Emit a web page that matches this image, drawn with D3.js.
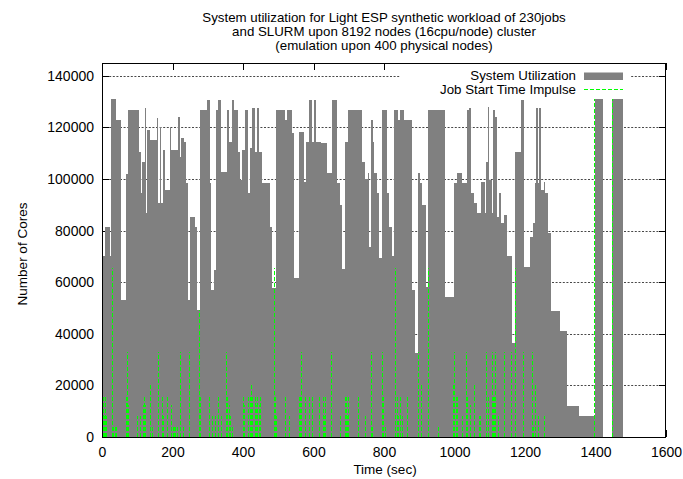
<!DOCTYPE html>
<html>
<head>
<meta charset="utf-8">
<title>System utilization</title>
<script src="https://d3js.org/d3.v7.min.js"></script>
<style>
  body { margin: 0; background: #fff; }
  svg { display: block; font-family: "Liberation Sans", Arial, Helvetica, sans-serif; }
  .tick text { font-size: 14px; fill: #000; }
  .grid line { stroke: #333; stroke-width: 0.9; stroke-dasharray: 2,1.6; }
</style>
</head>
<body>
<svg id="chart" width="683" height="479"></svg>
<script>
// title, axes
var titleLines = [
  "System utilization for Light ESP synthetic workload of 230jobs",
  "and SLURM upon 8192 nodes (16cpu/node) cluster",
  "(emulation upon 400 physical nodes)"
];
var xLabel = "Time (sec)";
var yLabel = "Number of Cores";
var xTicks = [0, 200, 400, 600, 800, 1000, 1200, 1400, 1600];
var yTicks = [0, 20000, 40000, 60000, 80000, 100000, 120000, 140000];
var legendNames = ["System Utilization", "Job Start Time Impulse"];

// system utilization, step profile: start time (sec) -> cores in use
var utilTime = [0, 2, 3, 9.5, 21.7, 26.5, 40.6, 53, 69, 74, 104, 110, 113, 121, 124, 128.5, 135, 157, 160, 164,
  168, 174, 178, 192, 197, 215, 220, 225, 233, 239, 244, 249, 263, 270, 277, 299, 305, 310, 317, 322,
  330, 339, 353.5, 360, 368, 375, 387, 391, 396, 405.5, 413, 420, 426, 434, 438.5, 445, 455, 476, 483, 492.5,
  519, 524, 540, 543.5, 558.5, 574, 580, 587, 594.5, 600, 606, 621, 637, 652, 666, 676, 682, 690, 697, 739,
  747, 754, 758, 764, 768, 773, 780, 787, 794, 808, 815, 822, 828, 839, 846, 858, 879, 888, 896, 903,
  907, 920, 925, 973, 998, 1007, 1022, 1036, 1042, 1048, 1055, 1064, 1074, 1086, 1090, 1095, 1099, 1105, 1109, 1114,
  1121, 1127, 1133, 1140, 1150, 1163, 1173, 1190, 1196, 1215, 1222, 1227, 1231, 1237, 1241, 1246, 1253, 1258, 1266, 1275,
  1300, 1319, 1352, 1399, 1420, 1447, 1477];
var utilCores = [40000, 56000, 70000, 81500, 70000, 131072, 123000, 53000, 102000, 126800, 110600, 94500, 106800, 127500, 86700, 119000, 115000, 123600, 90600, 120300,
  90600, 111300, 95800, 120300, 111300, 124000, 108700, 115800, 114500, 98400, 53000, 85400, 81500, 49200, 126800, 130700, 98400, 57000, 64750, 126800,
  130700, 102900, 126800, 114500, 130700, 126800, 110600, 99700, 111300, 126800, 94500, 112000, 127500, 110600, 127500, 110600, 98400, 81500, 57600, 126800,
  122900, 126800, 117700, 61500, 118400, 99000, 114500, 130700, 114500, 130700, 114500, 113900, 102200, 130700, 98400, 90000, 65000, 114500, 126800, 106800,
  100000, 102200, 73800, 122900, 114500, 102200, 94500, 69300, 126800, 94500, 81500, 70000, 126800, 122900, 126800, 122900, 57000, 32400, 102200, 98400,
  90000, 58300, 126800, 54400, 98400, 102200, 98400, 126800, 127500, 94500, 90600, 86700, 99000, 86700, 106800, 128100, 99700, 86700, 126800, 124000,
  85400, 94500, 82900, 86100, 70000, 36300, 110600, 130700, 66000, 77700, 82900, 98400, 127500, 98400, 127500, 95800, 99000, 94500, 79000, 49000,
  41100, 12000, 8192, 131072, 0, 131072, 0];

// job start impulses: start time (sec) and cores requested
var jobStart = [1, 2, 3, 4, 5, 6, 7, 8, 9, 10, 11, 27, 32, 37, 40, 68, 70, 72, 74, 98,
  108, 115, 118, 120, 122, 136, 143, 158, 160, 169, 174, 185, 197, 202, 205, 208, 213, 222, 231, 248,
  276, 278, 279, 304, 311, 320, 328, 339, 353, 356, 360, 364, 369, 399, 402, 415, 420, 424, 426, 434,
  438, 441, 445, 448, 489, 492, 495, 519, 530, 558, 561, 564, 576, 588, 597, 615, 626, 629, 632, 634,
  651, 676, 688, 691, 693, 695, 697, 726, 747, 764, 767, 794, 798, 803, 830, 836, 840, 845, 850, 865,
  896, 905, 924, 953, 995, 998, 1003, 1008, 1022, 1033, 1036, 1045, 1055, 1069, 1073, 1090, 1095, 1107, 1110, 1113,
  1116, 1124, 1140, 1159, 1173, 1194, 1219, 1222, 1229, 1238, 1255, 1396, 1446];
var jobCores = [8192, 4096, 8192, 16384, 8192, 4096, 8192, 16384, 4096, 8192, 4096, 65536, 4096, 4096, 4096, 16384, 12288, 32768, 12288, 8192,
  8192, 12288, 12288, 16384, 12288, 20480, 4096, 32768, 16384, 16384, 8192, 16384, 12288, 4096, 4096, 4096, 4096, 32768, 4096, 32768,
  49152, 16384, 4096, 16384, 8192, 8192, 16384, 8192, 32768, 16384, 12288, 8192, 4096, 16384, 12288, 16384, 16384, 20480, 16384, 16384,
  12288, 16384, 12288, 16384, 65536, 16384, 8192, 16384, 8192, 16384, 16384, 32768, 16384, 16384, 16384, 16384, 16384, 8192, 16384, 8192,
  32768, 8192, 16384, 8192, 16384, 8192, 16384, 16384, 8192, 32768, 4096, 32768, 16384, 4096, 65536, 16384, 8192, 16384, 8192, 16384,
  32768, 20480, 65536, 4096, 20480, 32768, 16384, 16384, 8192, 32768, 16384, 12288, 20480, 8192, 8192, 32768, 16384, 32768, 16384, 16384,
  32768, 8192, 32768, 32768, 65536, 32768, 32768, 4096, 20480, 8192, 8192, 131072, 131072];

var svg = d3.select("#chart");
var plotL = 102, plotR = 666, plotT = 63, plotB = 437;

var x = d3.scaleLinear().domain([0, 1600]).range([plotL, plotR]);
var y = d3.scaleLinear().domain([0, 145000]).range([plotB, plotT]);

// title
svg.append("g").selectAll("text").data(titleLines).enter().append("text")
  .attr("x", 384).attr("y", function(d, i) { return 21.5 + i * 14; })
  .attr("text-anchor", "middle").attr("font-size", "13.3px").text(function(d) { return d; });

// grid (behind the data)
svg.append("g").attr("class", "grid").selectAll("line")
  .data(yTicks.filter(function(d) { return d > 0; })).enter().append("line")
  .attr("x1", plotL).attr("x2", plotR)
  .attr("y1", function(d) { return Math.round(y(d)) + 0.5; })
  .attr("y2", function(d) { return Math.round(y(d)) + 0.5; });

// inward tick marks, mirrored on all four sides
var tk = svg.append("g").attr("stroke", "#000").attr("stroke-width", 1);
xTicks.forEach(function(t) {
  var px = Math.round(x(t)) + 0.5;
  tk.append("line").attr("x1", px).attr("x2", px).attr("y1", plotB).attr("y2", plotB - 7);
  tk.append("line").attr("x1", px).attr("x2", px).attr("y1", plotT).attr("y2", plotT + 7);
});
yTicks.forEach(function(v) {
  var py = Math.round(y(v)) + 0.5;
  tk.append("line").attr("x1", plotL).attr("x2", plotL + 7).attr("y1", py).attr("y2", py);
  tk.append("line").attr("x1", plotR).attr("x2", plotR - 7).attr("y1", py).attr("y2", py);
});

// utilization as a filled step profile
var util = utilTime.map(function(t, i) { return { t: t, v: utilCores[i] }; });
var area = d3.area()
  .x(function(d) { return x(d.t); })
  .y0(y(0))
  .y1(function(d) { return y(d.v); })
  .curve(d3.curveStepAfter);
svg.append("path").datum(util)
  .attr("d", area).attr("fill", "#808080").attr("shape-rendering", "crispEdges");

// job start impulses
var jobs = jobStart.map(function(t, i) { return { t: t, v: jobCores[i] }; });
svg.append("g").selectAll("line").data(jobs).enter().append("line")
  .attr("x1", function(d) { return Math.round(x(d.t)) + 0.5; })
  .attr("x2", function(d) { return Math.round(x(d.t)) + 0.5; })
  .attr("y1", y(0))
  .attr("y2", function(d) { return y(d.v); })
  .attr("stroke", "#00ff00").attr("stroke-width", 1)
  .attr("stroke-dasharray", "4,2").attr("shape-rendering", "crispEdges");

// legend (opaque key)
var key = svg.append("g");
key.append("rect").attr("x", 400).attr("y", plotT + 1).attr("width", 231).attr("height", 32).attr("fill", "#fff");
key.append("text").attr("x", 576).attr("y", 80).attr("text-anchor", "end").attr("font-size", "13.3px").text(legendNames[0]);
key.append("rect").attr("x", 584).attr("y", 72.5).attr("width", 39).attr("height", 7.5).attr("fill", "#808080");
key.append("text").attr("x", 576).attr("y", 93.5).attr("text-anchor", "end").attr("font-size", "13.3px").text(legendNames[1]);
key.append("line").attr("x1", 584).attr("x2", 623).attr("y1", 89.5).attr("y2", 89.5)
  .attr("stroke", "#00ff00").attr("stroke-dasharray", "4,2");

// tick labels via d3 axes (tick lines hidden, only the text)
var xAxis = d3.axisBottom(x).tickValues(xTicks).tickSize(0).tickPadding(10).tickFormat(d3.format("d"));
svg.append("g").attr("transform", "translate(0," + plotB + ")").call(xAxis)
  .call(function(g) { g.select(".domain").remove(); });
var yAxis = d3.axisLeft(y).tickValues(yTicks).tickSize(0).tickPadding(8).tickFormat(d3.format("d"));
svg.append("g").attr("transform", "translate(" + plotL + ",0)").call(yAxis)
  .call(function(g) { g.select(".domain").remove(); });
svg.selectAll("g[font-family]").attr("font-family", null).attr("font-size", null);

svg.append("text").attr("x", 385).attr("y", 474).attr("text-anchor", "middle")
  .attr("font-size", "13.5px").text(xLabel);
svg.append("text").attr("transform", "translate(27,254) rotate(-90)").attr("text-anchor", "middle")
  .attr("font-size", "13.5px").text(yLabel);

// frame on top
svg.append("rect").attr("x", plotL + 0.5).attr("y", plotT + 0.5)
  .attr("width", plotR - plotL - 1).attr("height", plotB - plotT)
  .attr("fill", "none").attr("stroke", "#000").attr("stroke-width", 1);
</script>
</body>
</html>
